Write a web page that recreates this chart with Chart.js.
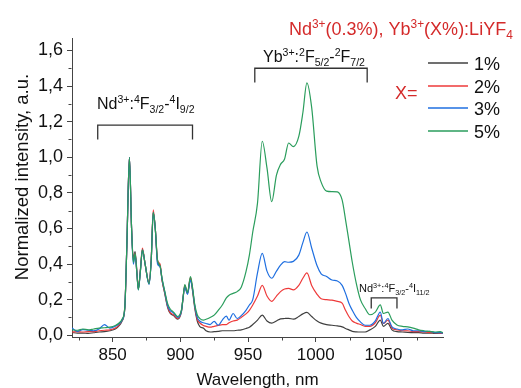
<!DOCTYPE html>
<html>
<head>
<meta charset="utf-8">
<script src="https://cdn.jsdelivr.net/npm/chart.js@4.4.1/dist/chart.umd.min.js"></script>
<style>
  body { margin: 0; background: #fff; }
  canvas { display: block; }
</style>
</head>
<body>
<canvas id="spectra" width="521" height="388"></canvas>
<script>
// wavelength grid, nm (shared by all spectra)
const wavelength = [
  820, 824, 828, 832, 836, 840, 844, 848, 852, 855,
  857, 859, 860.5, 862.4, 864, 865.3, 866.6, 868, 869, 870.5,
  872, 874, 876.9, 878.5, 880, 881.5, 883.2, 885, 886.5, 888.6,
  890.5, 892.3, 895, 898, 900.9, 902, 903.3, 905.3, 907.5, 909,
  910.7, 912.5, 914.3, 917, 919, 922, 925, 928, 931, 934,
  936, 939, 942, 945, 948.5, 951, 953.5, 957, 960.5, 964,
  967.5, 971, 974, 977, 980, 983.5, 987.5, 990.5, 993.5, 997,
  1001, 1004, 1008, 1012, 1016, 1019.5, 1022, 1024.5, 1027, 1030,
  1033, 1036.5, 1040, 1044, 1047.7, 1050, 1053.3, 1056.3, 1060, 1064,
  1068, 1072, 1076, 1080, 1084, 1088, 1092, 1094
];

const seriesLabels = ['1%', '2%', '3%', '5%'];
const seriesColors = ['#404040', '#ee3a3a', '#1f6fe0', '#2a9d5c'];

const yb1 = [
  0.015, 0.012, 0.012, 0.01, 0.014, 0.018, 0.02, 0.025, 0.035, 0.055,
  0.08, 0.15, 0.50, 1.00, 0.60, 0.43, 0.47, 0.35, 0.26, 0.36,
  0.48, 0.40, 0.29, 0.42, 0.69, 0.60, 0.41, 0.39, 0.31, 0.23,
  0.16, 0.125, 0.11, 0.09, 0.135, 0.205, 0.275, 0.235, 0.32, 0.25,
  0.15, 0.08, 0.05, 0.04, 0.025, 0.018, 0.02, 0.022, 0.025, 0.025,
  0.025, 0.025, 0.028, 0.03, 0.038, 0.045, 0.06, 0.085, 0.113, 0.08,
  0.068, 0.08, 0.092, 0.094, 0.095, 0.09, 0.105, 0.12, 0.128, 0.105,
  0.08, 0.068, 0.06, 0.056, 0.052, 0.047, 0.038, 0.03, 0.022, 0.019,
  0.018, 0.018, 0.03, 0.05, 0.085, 0.05, 0.066, 0.03, 0.02, 0.018,
  0.016, 0.015, 0.015, 0.012, 0.012, 0.01, 0.01, 0.01
];
const yb2 = [
  0.018, 0.02, 0.018, 0.02, 0.02, 0.025, 0.028, 0.03, 0.04, 0.06,
  0.085, 0.155, 0.50, 1.00, 0.60, 0.42, 0.46, 0.34, 0.26, 0.37,
  0.49, 0.40, 0.295, 0.43, 0.705, 0.60, 0.42, 0.40, 0.31, 0.235,
  0.165, 0.13, 0.115, 0.095, 0.14, 0.21, 0.28, 0.235, 0.325, 0.26,
  0.16, 0.09, 0.07, 0.055, 0.05, 0.045, 0.05, 0.055, 0.06, 0.06,
  0.07, 0.08, 0.085, 0.1, 0.12, 0.14, 0.17, 0.22, 0.28, 0.22,
  0.19, 0.22, 0.245, 0.26, 0.263, 0.255, 0.28, 0.32, 0.35, 0.28,
  0.23, 0.205, 0.2, 0.197, 0.19, 0.18, 0.14, 0.105, 0.08, 0.068,
  0.06, 0.05, 0.05, 0.07, 0.113, 0.066, 0.085, 0.04, 0.03, 0.025,
  0.025, 0.02, 0.02, 0.018, 0.015, 0.015, 0.012, 0.012
];
const yb3 = [
  0.04, 0.022, 0.032, 0.028, 0.025, 0.035, 0.06, 0.04, 0.05, 0.065,
  0.085, 0.155, 0.50, 1.00, 0.60, 0.40, 0.45, 0.34, 0.255, 0.36,
  0.48, 0.40, 0.285, 0.42, 0.69, 0.60, 0.40, 0.385, 0.315, 0.24,
  0.17, 0.14, 0.125, 0.10, 0.14, 0.21, 0.27, 0.23, 0.31, 0.26,
  0.165, 0.1, 0.08, 0.07, 0.066, 0.06, 0.078, 0.056, 0.085, 0.107,
  0.085, 0.122, 0.094, 0.11, 0.14, 0.17, 0.2, 0.35, 0.46, 0.36,
  0.32, 0.36, 0.394, 0.413, 0.41, 0.415, 0.45, 0.52, 0.58, 0.49,
  0.39, 0.345, 0.33, 0.31, 0.305, 0.28, 0.235, 0.18, 0.14, 0.1,
  0.075, 0.056, 0.056, 0.08, 0.13, 0.066, 0.094, 0.047, 0.035, 0.03,
  0.035, 0.025, 0.025, 0.02, 0.022, 0.015, 0.015, 0.012
];
const yb5 = [
  0.03, 0.028, 0.035, 0.03, 0.035, 0.04, 0.042, 0.045, 0.055, 0.07,
  0.09, 0.16, 0.50, 1.00, 0.60, 0.41, 0.46, 0.34, 0.255, 0.36,
  0.48, 0.40, 0.29, 0.42, 0.69, 0.60, 0.42, 0.39, 0.32, 0.245,
  0.18, 0.15, 0.13, 0.105, 0.145, 0.21, 0.285, 0.24, 0.33, 0.27,
  0.17, 0.115, 0.095, 0.085, 0.09, 0.1, 0.113, 0.14, 0.17, 0.21,
  0.225, 0.235, 0.245, 0.27, 0.357, 0.45, 0.58, 0.742, 1.09, 0.94,
  0.75, 0.9, 0.96, 0.99, 1.08, 1.06, 1.117, 1.25, 1.418, 1.28,
  0.95, 0.86, 0.81, 0.807, 0.805, 0.76, 0.65, 0.53, 0.41, 0.29,
  0.2, 0.15, 0.115, 0.13, 0.17, 0.122, 0.13, 0.085, 0.058, 0.05,
  0.047, 0.04, 0.03, 0.025, 0.022, 0.018, 0.02, 0.015
];
const seriesValues = [yb1, yb2, yb3, yb5];

const xTickValues = [850, 900, 950, 1000, 1050];
const xMinorValues = [825, 875, 925, 975, 1025, 1075];
const yTickValues = [0, 0.2, 0.4, 0.6, 0.8, 1.0, 1.2, 1.4, 1.6];
const yMinorValues = [0.1, 0.3, 0.5, 0.7, 0.9, 1.1, 1.3, 1.5];

// transition brackets: [from nm, to nm, top, bottom]
const brackets = [
  [839, 909, 1.18, 1.10],
  [955, 1038, 1.50, 1.42],
  [1041, 1060, 0.21, 0.15]
];

const FONT = '"Liberation Sans", Arial, sans-serif';
const RED = '#d42a2a';

function richText(ctx, x, y, parts, size) {
  parts.forEach(([t, k]) => {
    const s = k ? size * 0.66 : size;
    ctx.font = s + 'px ' + FONT;
    const dy = k === 'sup' ? -size * 0.4 : k === 'sub' ? size * 0.24 : 0;
    ctx.fillText(t, x, y + dy);
    x += ctx.measureText(t).width;
  });
}

const decorations = {
  id: 'decorations',
  afterDraw(chart) {
    const { ctx, scales: { x, y } } = chart;
    ctx.save();

    // minor ticks
    ctx.strokeStyle = '#444';
    ctx.lineWidth = 1;
    const ax = Math.round(chart.chartArea.left) - 0.5;
    const ay = Math.round(chart.chartArea.bottom) + 0.5;
    xMinorValues.forEach(v => {
      const px = Math.round(x.getPixelForValue(v)) + 0.5;
      ctx.beginPath(); ctx.moveTo(px, ay); ctx.lineTo(px, ay + 3); ctx.stroke();
    });
    yMinorValues.forEach(v => {
      const py = Math.round(y.getPixelForValue(v)) + 0.5;
      ctx.beginPath(); ctx.moveTo(ax, py); ctx.lineTo(ax - 3, py); ctx.stroke();
    });

    // brackets
    ctx.strokeStyle = '#333';
    ctx.lineWidth = 1.3;
    brackets.forEach(b => {
      const x0 = x.getPixelForValue(b[0]), x1 = x.getPixelForValue(b[1]);
      const yt = y.getPixelForValue(b[2]), ybt = y.getPixelForValue(b[3]);
      ctx.beginPath();
      ctx.moveTo(x0, ybt); ctx.lineTo(x0, yt); ctx.lineTo(x1, yt); ctx.lineTo(x1, ybt);
      ctx.stroke();
    });

    ctx.textBaseline = 'alphabetic';
    ctx.textAlign = 'left';
    ctx.fillStyle = '#111';
    richText(ctx, 97, 109, [['Nd'], ['3+', 'sup'], [':'], ['4', 'sup'], ['F'], ['3/2', 'sub'], ['-'], ['4', 'sup'], ['I'], ['9/2', 'sub']], 16);
    richText(ctx, 263, 62, [['Yb'], ['3+', 'sup'], [':'], ['2', 'sup'], ['F'], ['5/2', 'sub'], ['-'], ['2', 'sup'], ['F'], ['7/2', 'sub']], 16);
    richText(ctx, 359, 292, [['Nd'], ['3+', 'sup'], [':'], ['4', 'sup'], ['F'], ['3/2', 'sub'], ['-'], ['4', 'sup'], ['I'], ['11/2', 'sub']], 11);

    // red title
    ctx.fillStyle = RED;
    richText(ctx, 289, 35, [['Nd'], ['3+', 'sup'], ['(0.3%), Yb'], ['3+', 'sup'], ['(X%):LiYF'], ['4', 'sub']], 18);
    ctx.font = '18px ' + FONT;
    ctx.fillText('X=', 395, 99);

    // legend
    const legendY = [63, 86, 108, 131];
    chart.data.datasets.forEach((ds, i) => {
      ctx.strokeStyle = ds.borderColor;
      ctx.lineWidth = 1.5;
      ctx.beginPath(); ctx.moveTo(428, legendY[i]); ctx.lineTo(468, legendY[i]); ctx.stroke();
      ctx.fillStyle = '#111';
      ctx.font = '18px ' + FONT;
      ctx.fillText(ds.label, 474, legendY[i] + 6.5);
    });

    // axis titles
    ctx.fillStyle = '#111';
    ctx.textAlign = 'center';
    ctx.textBaseline = 'middle';
    ctx.font = '17px ' + FONT;
    ctx.fillText('Wavelength, nm', (chart.chartArea.left + chart.chartArea.right) / 2, 380);
    ctx.translate(23, 177);
    ctx.rotate(-Math.PI / 2);
    ctx.font = '18.5px ' + FONT;
    ctx.fillText('Normalized intensity, a.u.', 0, 0);
    ctx.restore();
  }
};

const ctx = document.getElementById('spectra');

new Chart(ctx, {
  type: 'line',
  data: {
    datasets: seriesValues.map((vals, i) => ({
      label: seriesLabels[i],
      data: vals.map((v, j) => ({ x: wavelength[j], y: v })),
      borderColor: seriesColors[i],
      borderWidth: 1.2,
      pointRadius: 0,
      cubicInterpolationMode: 'monotone',
      order: seriesValues.length - i
    }))
  },
  options: {
    responsive: false,
    animation: false,
    devicePixelRatio: 1,
    layout: { padding: { left: 0, top: 38, right: 78, bottom: 0 } },
    plugins: {
      legend: { display: false },
      tooltip: { enabled: false }
    },
    scales: {
      x: {
        type: 'linear',
        min: 820,
        max: 1094,
        afterFit: (axis) => { axis.height = 51; },
        afterBuildTicks: (axis) => { axis.ticks = xTickValues.map(v => ({ value: v })); },
        border: { color: '#444', width: 1 },
        grid: { drawOnChartArea: false, tickLength: 5, tickColor: '#444' },
        ticks: {
          color: '#111',
          padding: 3,
          maxRotation: 0,
          font: { family: FONT, size: 17 },
          callback: (v) => String(v)
        }
      },
      y: {
        min: -0.01,
        max: 1.67,
        afterFit: (axis) => { axis.width = 72; },
        afterBuildTicks: (axis) => { axis.ticks = yTickValues.map(v => ({ value: v })); },
        border: { color: '#444', width: 1 },
        grid: { drawOnChartArea: false, tickLength: 5, tickColor: '#444' },
        ticks: {
          color: '#111',
          padding: 4,
          font: { family: FONT, size: 18 },
          callback: (v) => v.toFixed(1).replace('.', ',')
        }
      }
    }
  },
  plugins: [decorations]
});
</script>
</body>
</html>
